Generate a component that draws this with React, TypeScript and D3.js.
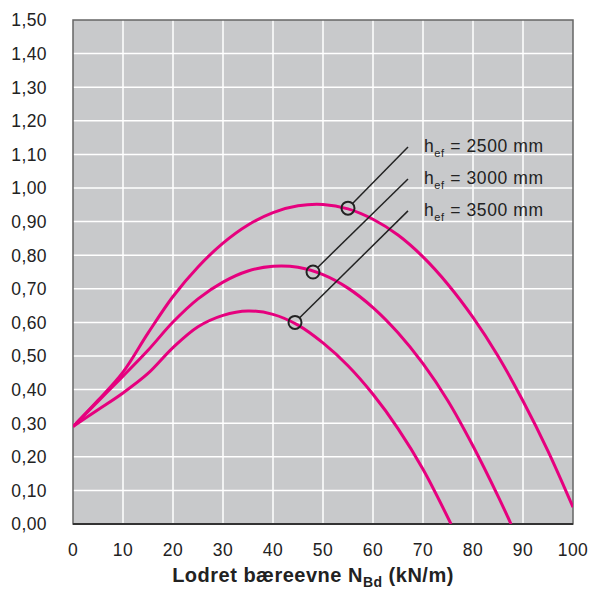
import React from "react";
import * as d3 from "d3";

const xTicks = [0, 10, 20, 30, 40, 50, 60, 70, 80, 90, 100];
const yTicks = [0, 0.1, 0.2, 0.3, 0.4, 0.5, 0.6, 0.7, 0.8, 0.9, 1.0, 1.1, 1.2, 1.3, 1.4, 1.5];

const seriesNames = ["2500", "3000", "3500"];

const x2500 = [0, 5, 10, 15, 20, 25, 30, 35, 40, 45, 50, 55, 60, 65, 70, 75, 80, 85, 90, 95, 100];
const y2500 = [0.29, 0.368, 0.452, 0.568, 0.677, 0.765, 0.836, 0.89, 0.927, 0.947, 0.951, 0.938, 0.907, 0.86, 0.795, 0.713, 0.615, 0.5, 0.366, 0.217, 0.05];

const x3000 = [0, 5, 10, 15, 20, 25, 30, 35, 40, 45, 50, 55, 60, 65, 70, 75, 80, 85, 87.6];
const y3000 = [0.29, 0.365, 0.44, 0.517, 0.601, 0.67, 0.72, 0.753, 0.767, 0.764, 0.742, 0.702, 0.644, 0.569, 0.477, 0.366, 0.232, 0.083, 0.0];

const x3500 = [0, 5, 10, 15, 20, 25, 30, 35, 40, 45, 50, 55, 60, 65, 70, 75.6];
const y3500 = [0.29, 0.34, 0.39, 0.448, 0.525, 0.587, 0.621, 0.634, 0.624, 0.592, 0.539, 0.471, 0.386, 0.284, 0.163, 0.0];

// marker points on each curve and leader-line ends (data units)
const markerX = [55, 48, 44.4];
const markerY = [0.94, 0.75, 0.6];
const leaderEndX = [67, 67, 67];
const leaderEndY = [1.122, 1.027, 0.932];

const FONT = "'Liberation Sans', Arial, Helvetica, sans-serif";
const MAGENTA = "#e6007e";

export default function App() {
  const W = 589, H = 589;
  const left = 73, right = 573, top = 20, bottom = 524;
  const x = d3.scaleLinear().domain([0, 100]).range([left, right]);
  const y = d3.scaleLinear().domain([0, 1.5]).range([bottom, top]);

  const fmt = (v: number) => v.toFixed(2).replace(".", ",");

  const series = [
    { xs: x2500, ys: y2500 },
    { xs: x3000, ys: y3000 },
    { xs: x3500, ys: y3500 },
  ];

  const line = d3
    .line<[number, number]>()
    .x((d) => x(d[0]))
    .y((d) => y(d[1]))
    .curve(d3.curveCatmullRom.alpha(0.5));

  const r = 6.5;

  return (
    <svg
      width={W}
      height={H}
      style={{ position: "absolute", left: 0, top: 0, background: "#fff" }}
      fontFamily={FONT}
    >
      <rect x={left} y={top} width={right - left} height={bottom - top} fill="#c8c9cb" />
      {xTicks.slice(1, -1).map((t) => (
        <line key={"gx" + t} x1={x(t)} x2={x(t)} y1={top} y2={bottom} stroke="#fff" strokeWidth={1.5} />
      ))}
      {yTicks.slice(1, -1).map((t) => (
        <line key={"gy" + t} x1={left} x2={right} y1={y(t)} y2={y(t)} stroke="#fff" strokeWidth={1.5} />
      ))}
      <rect x={left} y={top} width={right - left} height={bottom - top} fill="none" stroke="#666" strokeWidth={1.5} />
      <line x1={left} x2={right} y1={bottom} y2={bottom} stroke="#333" strokeWidth={2} />

      <defs>
        <clipPath id="plotclip">
          <rect x={left} y={top} width={right - left} height={bottom - top} />
        </clipPath>
      </defs>
      <g clipPath="url(#plotclip)">
        {series.map((s, i) => (
          <path
            key={seriesNames[i]}
            d={line(s.xs.map((v, j) => [v, s.ys[j]] as [number, number])) || ""}
            fill="none"
            stroke={MAGENTA}
            strokeWidth={3}
          />
        ))}
      </g>

      {markerX.map((mx, i) => {
        const cx = x(mx), cy = y(markerY[i]);
        const ex = x(leaderEndX[i]), ey = y(leaderEndY[i]);
        const dx = ex - cx, dy = ey - cy;
        const len = Math.hypot(dx, dy);
        return (
          <g key={"m" + i}>
            <line
              x1={cx + (dx / len) * r}
              y1={cy + (dy / len) * r}
              x2={ex}
              y2={ey}
              stroke="#222"
              strokeWidth={1.5}
            />
            <circle cx={cx} cy={cy} r={r} fill="none" stroke="#222" strokeWidth={2} />
            <text x={ex + 16} y={ey + 5} fontSize={17.5} letterSpacing={0.6} fill="#222">
              h<tspan fontSize={11} dy={5}>ef</tspan>
              <tspan dy={-5}> = {seriesNames[i]} mm</tspan>
            </text>
          </g>
        );
      })}

      {yTicks.map((t) => (
        <text key={"yl" + t} x={47} y={y(t)} dy="0.36em" textAnchor="end" fontSize={17.5} letterSpacing={0.4} fill="#222">
          {fmt(t)}
        </text>
      ))}
      {xTicks.map((t) => (
        <text key={"xl" + t} x={x(t)} y={556} textAnchor="middle" fontSize={17.5} letterSpacing={0.4} fill="#222">
          {t}
        </text>
      ))}

      <text x={313} y={582} textAnchor="middle" fontSize={20} letterSpacing={0.5} fontWeight="bold" fill="#222">
        Lodret bæreevne N<tspan fontSize={14} dy={5}>Bd</tspan>
        <tspan dy={-5}> (kN/m)</tspan>
      </text>
    </svg>
  );
}
